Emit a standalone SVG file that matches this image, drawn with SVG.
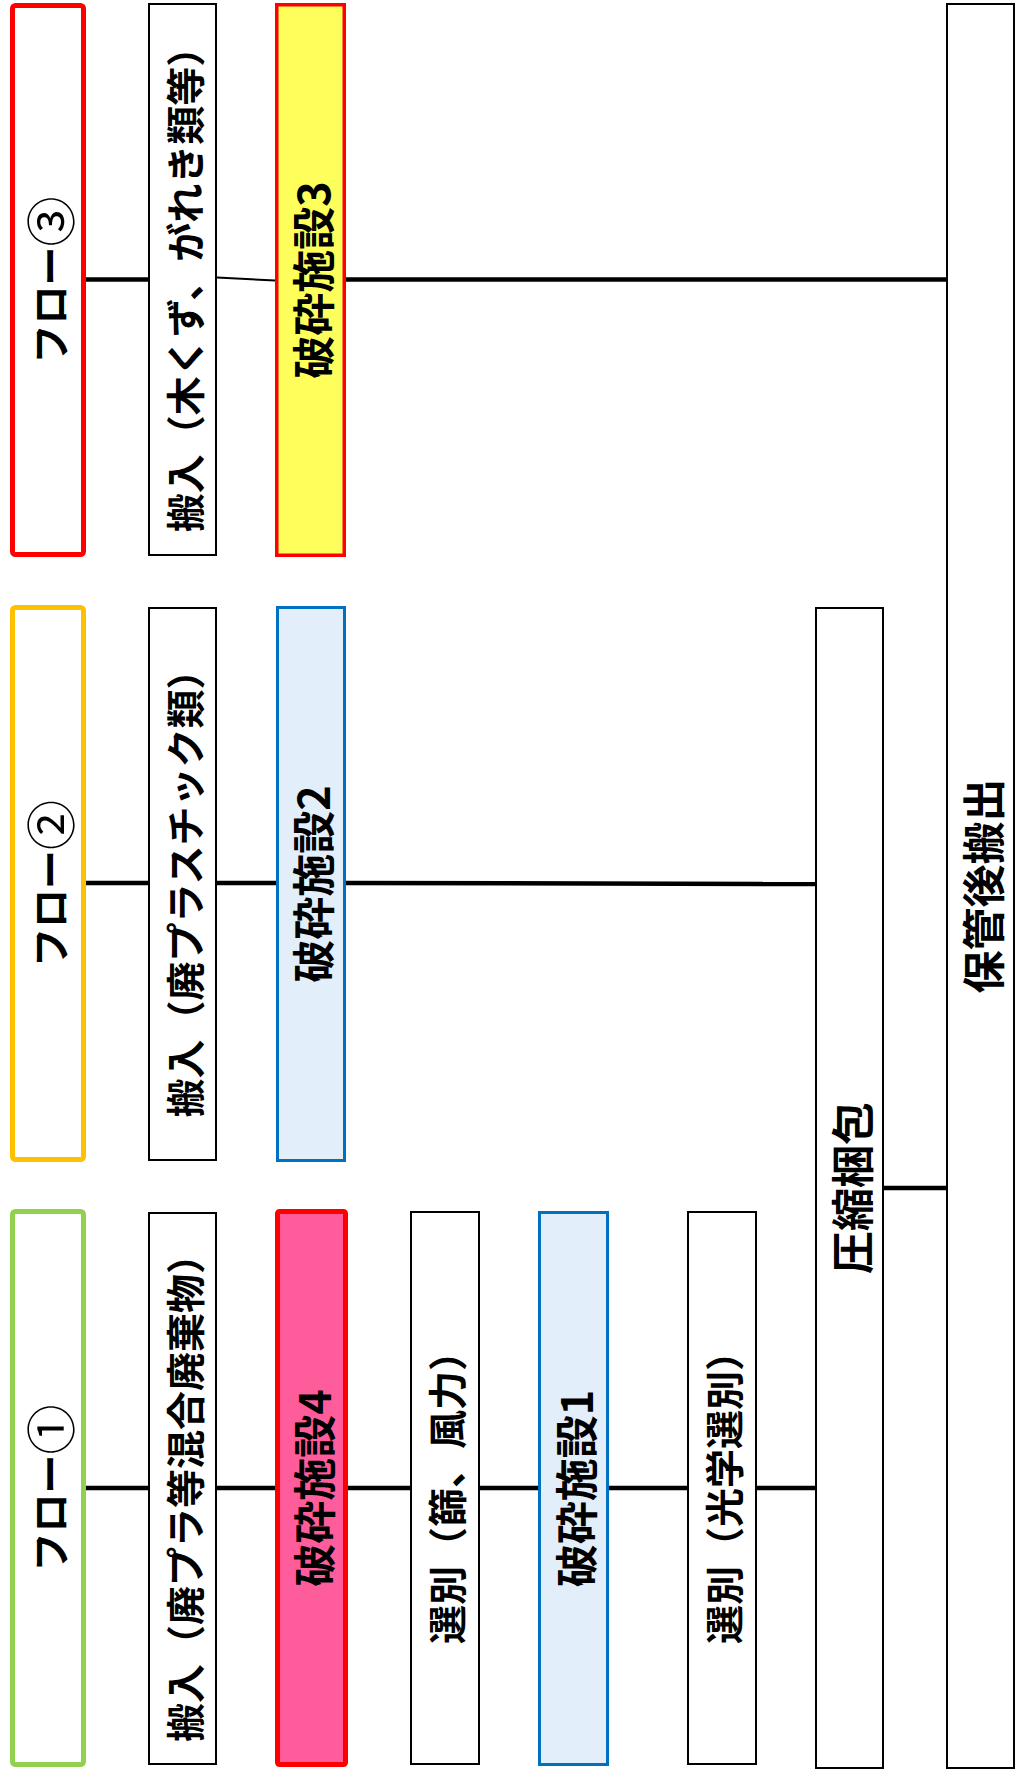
<svg xmlns="http://www.w3.org/2000/svg" width="1016" height="1774" viewBox="0 0 1016 1774">
<style>
.t{font-family:"Noto Sans CJK JP","Noto Sans CJK SC",sans-serif;font-weight:bold;fill:#000;text-anchor:middle;dominant-baseline:central}
.s{font-size:39px}
.b{font-size:43px}
.c{font-size:50px;font-weight:normal}
.plain{fill:#fff;stroke:#000;stroke-width:2}
.flow{fill:#fff;stroke-width:5}
.ln{stroke:#000;stroke-width:4.5;fill:none}
</style>
<rect width="1016" height="1774" fill="#fff"/>
<g id="connectors">
<line class="ln" x1="86" y1="279.5" x2="148" y2="279.5"/>
<line x1="217" y1="277.5" x2="275" y2="280.5" stroke="#000" stroke-width="2"/>
<line class="ln" x1="346" y1="279.5" x2="946" y2="279.5"/>
<line class="ln" x1="86" y1="883" x2="148" y2="883"/>
<line class="ln" x1="217" y1="883" x2="276" y2="883"/>
<line class="ln" x1="346" y1="883" x2="815" y2="884"/>
<line class="ln" x1="86" y1="1488" x2="148" y2="1488"/>
<line class="ln" x1="217" y1="1488" x2="275" y2="1488"/>
<line class="ln" x1="348" y1="1488" x2="410" y2="1488"/>
<line class="ln" x1="480" y1="1488" x2="538" y2="1488"/>
<line class="ln" x1="609" y1="1488" x2="687" y2="1488"/>
<line class="ln" x1="757" y1="1488" x2="815" y2="1488"/>
<line class="ln" x1="884" y1="1188" x2="946" y2="1188"/>
</g>
<g id="flow3">
<rect class="flow" x="12.5" y="5.5" width="71" height="549" rx="3" stroke="#FF0000"/>
<text class="t s" transform="translate(48,280) rotate(-90)">フロー<tspan class="c">③</tspan></text>
</g>
<g id="in3">
<rect class="plain" x="149" y="4" width="67" height="551"/>
<text class="t s" transform="translate(182.5,280) rotate(-90)">搬入（木くず、がれき類等）</text>
</g>
<g id="crush3">
<rect x="276.75" y="4.75" width="67.5" height="550.5" fill="#FFFF5B" stroke="#FF0000" stroke-width="3.5"/>
<text class="t b" transform="translate(310.5,280) rotate(-90)">破砕施設3</text>
</g>
<g id="flow2">
<rect class="flow" x="12.5" y="607.5" width="71" height="552" rx="3" stroke="#FFC000"/>
<text class="t s" transform="translate(48,883.5) rotate(-90)">フロー<tspan class="c">②</tspan></text>
</g>
<g id="in2">
<rect class="plain" x="149" y="608" width="67" height="552"/>
<text class="t s" transform="translate(182.5,884) rotate(-90)">搬入（廃プラスチック類）</text>
</g>
<g id="crush2">
<rect x="277.5" y="607.5" width="67" height="553" fill="#E2EEFA" stroke="#0070C0" stroke-width="3"/>
<text class="t b" transform="translate(311,884) rotate(-90)">破砕施設2</text>
</g>
<g id="flow1">
<rect class="flow" x="12.5" y="1211.5" width="71" height="553" rx="3" stroke="#92D050"/>
<text class="t s" transform="translate(48,1488) rotate(-90)">フロー<tspan class="c">①</tspan></text>
</g>
<g id="in1">
<rect class="plain" x="149" y="1213" width="67" height="551"/>
<text class="t s" transform="translate(182.5,1488.5) rotate(-90)">搬入（廃プラ等混合廃棄物）</text>
</g>
<g id="crush4">
<rect x="277.5" y="1211.5" width="68" height="553" rx="2" fill="#FF5C9C" stroke="#FF0000" stroke-width="5"/>
<text class="t b" transform="translate(311.5,1488) rotate(-90)">破砕施設4</text>
</g>
<g id="sort1">
<rect class="plain" x="411" y="1212" width="68" height="552"/>
<text class="t s" transform="translate(445,1488) rotate(-90)">選別（篩、風力）</text>
</g>
<g id="crush1">
<rect x="539.5" y="1212.5" width="68" height="552" fill="#E2EEFA" stroke="#0070C0" stroke-width="3"/>
<text class="t b" transform="translate(573.5,1488.5) rotate(-90)">破砕施設1</text>
</g>
<g id="sort2">
<rect class="plain" x="688" y="1212" width="68" height="552"/>
<text class="t s" transform="translate(722,1488) rotate(-90)">選別（光学選別）</text>
</g>
<g id="compress">
<rect class="plain" x="816" y="608" width="67" height="1160"/>
<text class="t b" transform="translate(849.5,1188) rotate(-90)">圧縮梱包</text>
</g>
<g id="store">
<rect class="plain" x="947" y="4" width="67" height="1764"/>
<text class="t b" transform="translate(980.5,886) rotate(-90)">保管後搬出</text>
</g>
</svg>
